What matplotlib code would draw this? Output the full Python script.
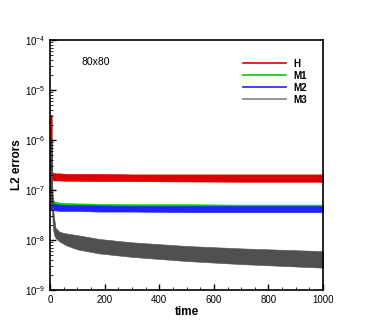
import numpy as np
import matplotlib
matplotlib.use('Agg')
import matplotlib.pyplot as plt
from matplotlib.lines import Line2D
from matplotlib.ticker import MultipleLocator, LogLocator, NullFormatter

plt.rcParams['font.family'] = ['Liberation Sans', 'DejaVu Sans']

# envelope of the noisy error bands
t = [0, 6, 7, 9, 11, 14, 20, 35, 60, 100, 180, 300, 500, 700, 1000]

h_hi = [3.2e-6, 3.2e-6, 2.3e-7, 2.25e-7, 2.2e-7, 2.2e-7, 2.15e-7, 2.15e-7, 2.1e-7, 2.1e-7, 2.1e-7, 2.05e-7, 2.05e-7, 2.05e-7, 2.05e-7]
h_lo = [1.55e-7, 1.55e-7, 1.6e-7, 1.6e-7, 1.55e-7, 1.55e-7, 1.55e-7, 1.55e-7, 1.52e-7, 1.52e-7, 1.5e-7, 1.5e-7, 1.48e-7, 1.46e-7, 1.46e-7]

m1_hi = [1.0e-6, 1.0e-6, 1.3e-7, 6.8e-8, 6.2e-8, 6.0e-8, 5.8e-8, 5.6e-8, 5.5e-8, 5.4e-8, 5.3e-8, 5.2e-8, 5.2e-8, 5.1e-8, 5.1e-8]
m1_lo = [4.6e-8, 4.6e-8, 4.6e-8, 4.5e-8, 4.5e-8, 4.4e-8, 4.4e-8, 4.4e-8, 4.3e-8, 4.3e-8, 4.3e-8, 4.2e-8, 4.2e-8, 4.2e-8, 4.2e-8]

m2_hi = [1.0e-6, 1.0e-6, 1.2e-7, 6.0e-8, 5.6e-8, 5.4e-8, 5.2e-8, 5.1e-8, 5.0e-8, 5.0e-8, 4.9e-8, 4.8e-8, 4.8e-8, 4.75e-8, 4.75e-8]
m2_lo = [4.0e-8, 4.0e-8, 4.0e-8, 4.0e-8, 3.9e-8, 3.9e-8, 3.9e-8, 3.8e-8, 3.8e-8, 3.8e-8, 3.7e-8, 3.7e-8, 3.6e-8, 3.6e-8, 3.6e-8]

m3_hi = [1.0e-6, 1.0e-6, 2.0e-7, 8.0e-8, 4.5e-8, 3.0e-8, 1.75e-8, 1.45e-8, 1.35e-8, 1.25e-8, 1.05e-8, 9.0e-9, 7.6e-9, 6.8e-9, 6.0e-9]
m3_lo = [5.0e-8, 5.0e-8, 4.0e-8, 2.5e-8, 1.7e-8, 1.3e-8, 1.1e-8, 9.3e-9, 7.8e-9, 6.5e-9, 5.4e-9, 4.6e-9, 3.8e-9, 3.3e-9, 2.8e-9]

names = ['H', 'M1', 'M2', 'M3']
colors = ['#dd0000', '#00cc00', '#2222ff', '#505050']
legend_colors = ['#dd0000', '#00cc00', '#2222ff', '#808080']
bands = [(h_hi, h_lo), (m1_hi, m1_lo), (m2_hi, m2_lo), (m3_hi, m3_lo)]

fig = plt.figure(figsize=(3.68, 3.27), dpi=100)
ax = fig.add_axes([0.136, 0.113, 0.742, 0.765])

for (hi, lo), c in zip(bands, colors):
    ax.fill_between(t, lo, hi, color=c, lw=0.4, edgecolor=c)

ax.set_yscale('log')
ax.set_xlim(0, 1000)
ax.set_ylim(1e-9, 1e-4)
ax.xaxis.set_major_locator(MultipleLocator(200))
ax.xaxis.set_minor_locator(MultipleLocator(50))
ax.yaxis.set_major_locator(LogLocator(base=10, numticks=10))
ax.yaxis.set_minor_locator(LogLocator(base=10, subs=np.arange(2, 10), numticks=20))
ax.yaxis.set_minor_formatter(NullFormatter())
ax.tick_params(which='both', direction='in', top=False, right=False, labelsize=7, color='black')
ax.tick_params(which='major', length=4.5, width=1.0)
ax.tick_params(which='minor', length=2.5, width=0.6)
for s in ax.spines.values():
    s.set_linewidth(1.2)

ax.set_xlabel('time', fontsize=8.5, fontweight='bold', labelpad=1)
ax.set_ylabel('L2 errors', fontsize=8.5, fontweight='bold')
ax.yaxis.set_label_coords(-0.1, 0.5)
ax.text(0.117, 0.91, '80x80', transform=ax.transAxes, fontsize=7.5, va='center')

handles = [Line2D([], [], color=c, lw=1.2) for c in legend_colors]
leg = ax.legend(handles, names, loc='upper right', bbox_to_anchor=(0.955, 0.94),
                frameon=False, fontsize=7, handlelength=4.4, handletextpad=0.8,
                labelspacing=0.2, borderaxespad=0)
for txt in leg.get_texts():
    txt.set_fontweight('bold')

fig.savefig('out.png', dpi=100)
